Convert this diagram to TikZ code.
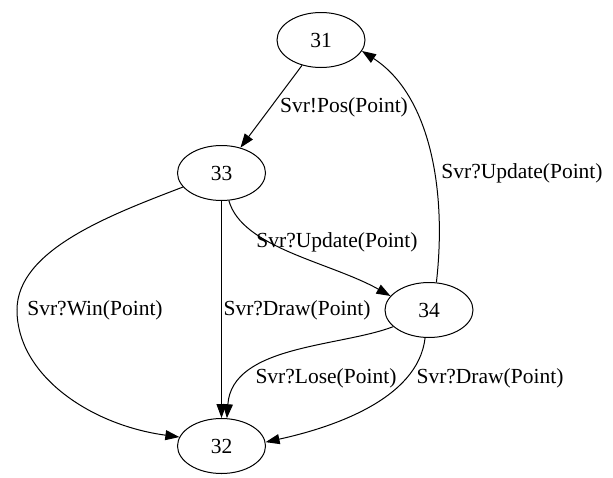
\documentclass[tikz,border=0pt]{standalone}
\usepackage{fontspec}
\setmainfont{Liberation Serif}
\usetikzlibrary{arrows.meta,shapes.geometric}
\begin{document}
\begin{tikzpicture}[x=1pt,y=-1pt,
  state/.style={draw,ellipse,line width=1pt,minimum width=88pt,minimum height=55pt,inner sep=0pt,font=\fontsize{21.5}{25}\selectfont},
  edge/.style={draw,line width=1pt,-{Triangle[length=14pt,width=10pt]}},
  lbl/.style={font=\fontsize{21.5}{25}\selectfont,inner sep=0pt}]
\useasboundingbox (0,0) rectangle (613,477);
\node[state] (n31) at (321,40) {31};
\node[state] (n33) at (221.5,173) {33};
\node[state] (n34) at (429,310) {34};
\node[state] (n32) at (221.5,446) {32};

\draw[edge] (n31) -- (n33);
\draw[edge] (n34.75) .. controls (447,190) and (430,95) .. (n31.-15);
\draw[edge] (n33.-75) .. controls (242,248) and (330,262) .. (n34.160);
\draw[edge] (n33) -- (n32);
\draw[edge] (n33.200) .. controls (110,215) and (17,250) .. (17,310) .. controls (17,375) and (90,425) .. (n32.168);
\draw[edge] (n34.205) .. controls (340,347) and (232,345) .. (n32.79);
\draw[edge] (n34.262) .. controls (418,400) and (330,428) .. (n32.5);

\node[lbl] (l1) at (344,107) {Svr!Pos(Point)};
\node[lbl] (l2) at (522,173) {Svr?Update(Point)};
\node[lbl] (l3) at (337,242) {Svr?Update(Point)};
\node[lbl] (l4) at (95,310) {Svr?Win(Point)};
\node[lbl] (l5) at (297,310) {Svr?Draw(Point)};
\node[lbl] (l6) at (326,378) {Svr?Lose(Point)};
\node[lbl] (l7) at (490,378) {Svr?Draw(Point)};
\end{tikzpicture}
\end{document}
